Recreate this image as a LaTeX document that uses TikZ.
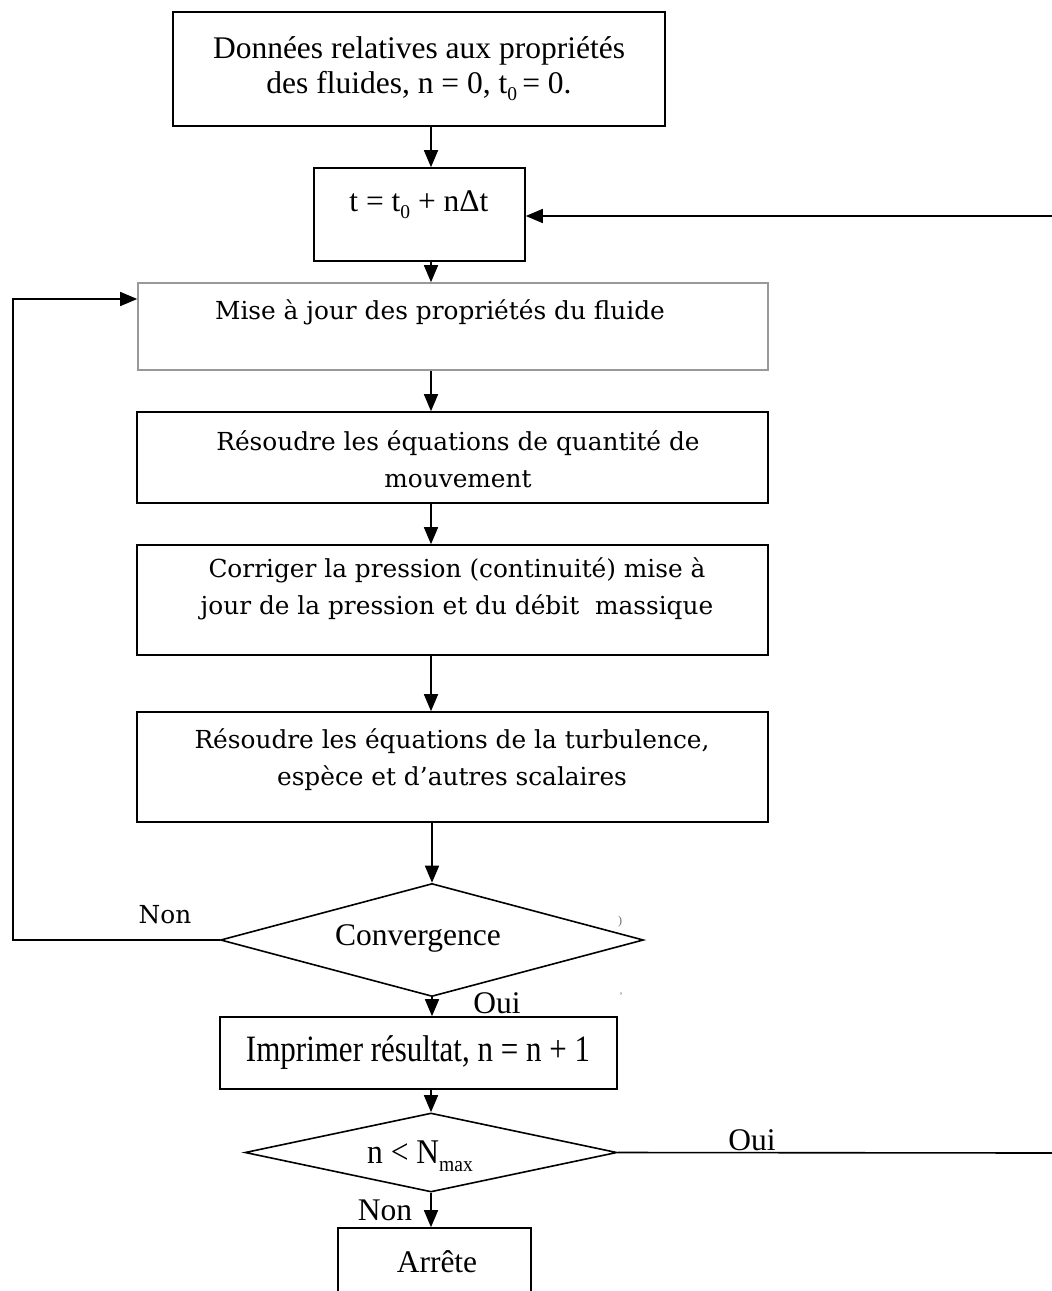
\documentclass[tikz,border=0pt]{standalone}
\usepackage{fontspec}
\setmainfont{Liberation Serif}
\newfontfamily\bmfont{DejaVu Serif}
\usetikzlibrary{arrows.meta,shapes.geometric}
\newcommand\sbs[1]{\raisebox{-0.22em}{\scalebox{0.62}{#1}}}
\begin{document}
\begin{tikzpicture}[x=1pt,y=-1pt,
  box/.style={draw,line width=1.6pt,inner sep=0pt},
  greybox/.style={draw=black!40,line width=1.6pt,inner sep=0pt},
  choice/.style={draw,shape=diamond,line width=1.6pt,inner sep=0pt},
  txt/.style={font=\fontsize{31.5}{35}\selectfont,align=center,inner sep=0pt},
  btxt/.style={font=\bmfont\fontsize{24.8}{37}\selectfont,align=center,inner sep=0pt},
  arr/.style={-{Triangle[length=17pt,width=14pt]},line width=1.6pt},
  link/.style={line width=1.6pt},
]
\clip (0,0) rectangle (1052,1291);

% boxes
\node[box,minimum width=492pt,minimum height=114pt] (top) at (419,69) {};
\node[box,minimum width=211pt,minimum height=93pt] (tbox) at (419.5,214.5) {};
\node[greybox,minimum width=630pt,minimum height=87pt] (mise) at (453,326.5) {};
\node[box,minimum width=631pt,minimum height=91pt] (res) at (452.5,457.5) {};
\node[box,minimum width=631pt,minimum height=110pt] (corr) at (452.5,600) {};
\node[box,minimum width=631pt,minimum height=110pt] (turb) at (452.5,767) {};
\node[choice,minimum width=423pt,minimum height=113pt,aspect=3.7] (conv) at (432,940) {};
\node[box,minimum width=397pt,minimum height=72pt] (impr) at (418.5,1053) {};
\node[choice,minimum width=372pt,minimum height=79pt,aspect=4.7] (nmax) at (431,1152.5) {};
\node[box,minimum width=193pt,minimum height=110pt] (stop) at (434.5,1283) {};

% texts
\node[txt] (ttop) at (419,69) {Données relatives aux propriétés\\des fluides, n = 0, t\sbs{0}\,= 0.};
\node[txt] (tt) at (419,205) {t = t\sbs{0} + nΔt};
\node[btxt] (tmise) at (440,312) {Mise à jour des propriétés du fluide};
\node[btxt] (tres) at (458,459) {Résoudre les équations de quantité de\\mouvement};
\node[btxt] (tcorr) at (457,589) {Corriger la pression (continuité) mise à\\jour de la pression et du débit\ \ massique};
\node[btxt] (tturb) at (452,760) {Résoudre les équations de la turbulence,\\espèce et d’autres scalaires};
\node[txt] (tconv) at (418,938) {Convergence};
\node[btxt] (lnon1) at (165,915) {Non};
\node[txt] (loui1) at (497,1003) {Oui};
\node[txt,font=\fontsize{31}{35}\selectfont] (timpr) at (418,1053) {\scalebox{1}[1.2]{Imprimer résultat, n = n + 1}};
\node[txt] (tnmax) at (420,1156) {\scalebox{1}[1.1]{n < N\sbs{max}}};
\node[txt] (loui2) at (752,1140) {Oui};
\node[txt] (lnon2) at (385,1210) {Non};
\node[txt] (tstop) at (437,1262) {Arrête};
\node[font=\fontsize{12}{12}\selectfont,text=black!60,inner sep=0pt] (mk1) at (620,922) {)};
\node[font=\fontsize{10}{10}\selectfont,text=black!60,inner sep=0pt] (mk2) at (621,996) {'};

% connectors
\coordinate (ax) at (431,0);
\coordinate (rin) at (1052,216);
\coordinate (rout) at (1052,1153);
\coordinate (lt) at (13,299);
\draw[arr] (top.south -| ax) -- (tbox.north -| ax);
\draw[arr] (tbox.south -| ax) -- (mise.north -| ax);
\draw[arr] (mise.south -| ax) -- (res.north -| ax);
\draw[arr] (res.south -| ax) -- (corr.north -| ax);
\draw[arr] (corr.south -| ax) -- (turb.north -| ax);
\draw[arr] (turb.south -| conv.north) -- (conv.north);
\draw[arr] (conv.south) -- (impr.north -| conv.south);
\draw[arr] (impr.south -| nmax.north) -- (nmax.north);
\draw[arr] (nmax.south) -- (stop.north -| nmax.south);
\draw[arr] (rin) -- (tbox.east |- rin);
\draw[link] (nmax.east) -- (rout);
\draw[arr] (conv.west) -| (lt) -- (mise.west |- lt);
\end{tikzpicture}
\end{document}
